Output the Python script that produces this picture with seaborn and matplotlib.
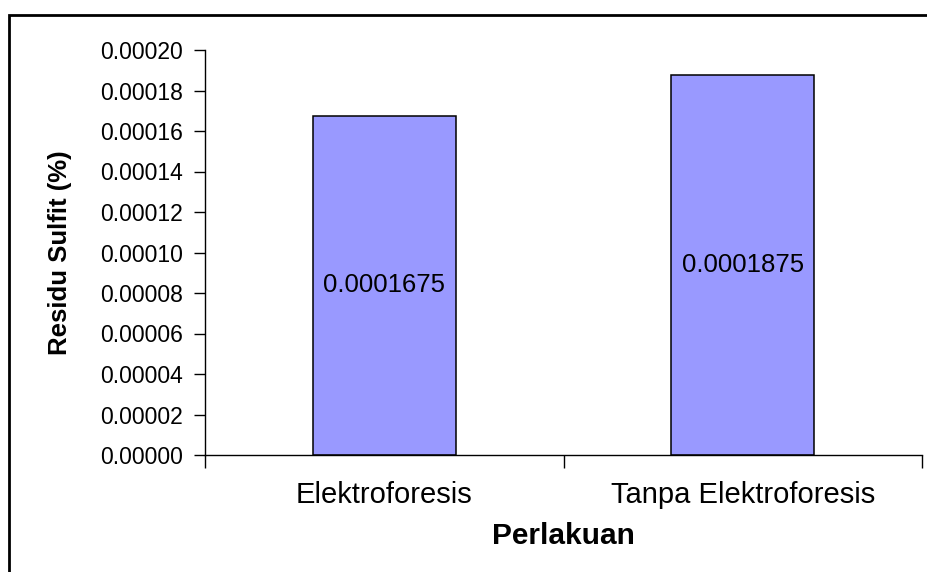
import matplotlib
matplotlib.use("Agg")
import matplotlib.pyplot as plt
from matplotlib.patches import Rectangle
import seaborn as sns

# Data
categories = ["Elektroforesis", "Tanpa Elektroforesis"]
values = [0.0001675, 0.0001875]
value_labels = ["0.0001675", "0.0001875"]
y_ticks = [0.0, 0.00002, 0.00004, 0.00006, 0.00008, 0.00010,
           0.00012, 0.00014, 0.00016, 0.00018, 0.00020]

sns.set_style("white")
plt.rcParams["font.family"] = ["Liberation Sans", "DejaVu Sans"]
plt.rcParams["text.color"] = "black"
plt.rcParams["axes.labelcolor"] = "black"
plt.rcParams["xtick.color"] = "black"
plt.rcParams["ytick.color"] = "black"

fig = plt.figure(figsize=(9.27, 5.72), dpi=100)
ax = fig.add_axes([205 / 927, 1 - 455 / 572, 717 / 927, 405 / 572])

sns.barplot(x=categories, y=values, color="#9999FF", saturation=1,
            edgecolor="black", linewidth=1.1, width=0.4, ax=ax)

ax.set_xlim(-0.5, 1.5)
ax.set_ylim(0, 0.0002)

# y axis: plain decimal ticks pointing outward
ax.set_yticks(y_ticks)
ax.set_yticklabels([f"{t:.5f}" for t in y_ticks])
ax.tick_params(axis="y", which="major", direction="out", length=8, width=1,
               color="black", labelcolor="black", labelsize=16.5, pad=8, left=True)

# x axis: ticks at category boundaries, labels centred under bars
ax.set_xticks([-0.5, 0.5, 1.5])
ax.set_xticklabels(["", "", ""])
ax.set_xticks([0, 1], minor=True)
ax.set_xticklabels(categories, minor=True)
ax.tick_params(axis="x", which="major", direction="out", length=9, width=1,
               color="black", bottom=True)
ax.tick_params(axis="x", which="minor", length=0, labelsize=21,
               labelcolor="black", pad=19)

for side in ("top", "right"):
    ax.spines[side].set_visible(False)
for side in ("left", "bottom"):
    ax.spines[side].set_color("black")
    ax.spines[side].set_linewidth(1.0)

# value labels in the middle of each bar
for i, (v, lab) in enumerate(zip(values, value_labels)):
    ax.text(i, v / 2, lab, ha="center", va="center", fontsize=18.5, color="black")

ax.set_xlabel("Perlakuan", fontsize=21.5, fontweight="bold", color="black")
ax.set_ylabel("Residu Sulfit (%)", fontsize=18.5, fontweight="bold", color="black")
ax.xaxis.set_label_coords(0.5, (455 - 536) / 405)
ax.xaxis.label.set_va("center")
ax.yaxis.set_label_coords((60 - 205) / 717, 0.5)
ax.yaxis.label.set_va("center")

# chart area frame
fig.add_artist(Rectangle((9 / 927, -0.2), 1.5, 1.2 - 15 / 572, fill=False,
                         edgecolor="black", linewidth=2,
                         transform=fig.transFigure, clip_on=False))

fig.savefig("out.png", dpi=100, facecolor="white")
